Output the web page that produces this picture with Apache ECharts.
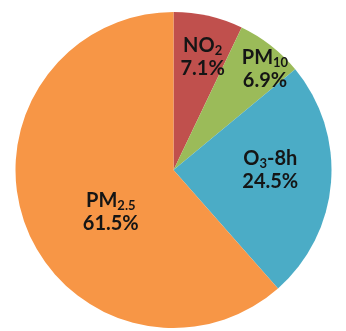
<!DOCTYPE html>
<html>
<head>
<meta charset="utf-8">
<script src="https://cdn.jsdelivr.net/npm/echarts@6/dist/echarts.min.js"></script>
<style>
html,body{margin:0;padding:0;background:#fff;}
#c{width:346px;height:331px;}
</style>
</head>
<body>
<div id="c"></div>
<script>
// Data
var names = ['NO2', 'PM10', 'O3-8h', 'PM2.5'];
var labelMain = ['NO', 'PM', 'O', 'PM'];
var labelSub = ['2', '10', '3', '2.5'];
var labelTail = ['', '', '-8h', ''];
var values = [7.1, 6.9, 24.5, 61.5];
var colors = ['#C0504D', '#9BBB59', '#4BACC6', '#F79646'];
// label adjustments (style, relative to default inner position)
var labelOffsets = [[11, -33], [41, -36], [15, -6], [14, 13]];

var chart = echarts.init(document.getElementById('c'), null, {renderer: 'canvas'});
var data = names.map(function (n, i) {
  return {
    name: n,
    value: values[i],
    itemStyle: {color: colors[i]},
    label: {offset: labelOffsets[i]}
  };
});
chart.setOption({
  animation: false,
  series: [{
    type: 'pie',
    center: [173.5, 170],
    radius: [0, 158],
    startAngle: 90,
    clockwise: true,
    avoidLabelOverlap: false,
    itemStyle: {borderWidth: 0},
    emphasis: {disabled: true},
    label: {
      show: true,
      position: 'inner',
      formatter: function (p) {
        var i = p.dataIndex;
        return labelMain[i] + '{s|' + labelSub[i] + '}' + labelTail[i] + '\n' + values[i].toFixed(1) + '%';
      },
      fontFamily: 'Lato',
      fontWeight: 'bold',
      fontSize: 20,
      lineHeight: 23,
      color: '#151515',
      align: 'center',
      rich: {
        s: {fontFamily: 'Lato', fontWeight: 'bold', fontSize: 13, verticalAlign: 'bottom', lineHeight: 23, color: '#151515'}
      }
    },
    labelLine: {show: false},
    data: data
  }]
});
</script>
</body>
</html>
